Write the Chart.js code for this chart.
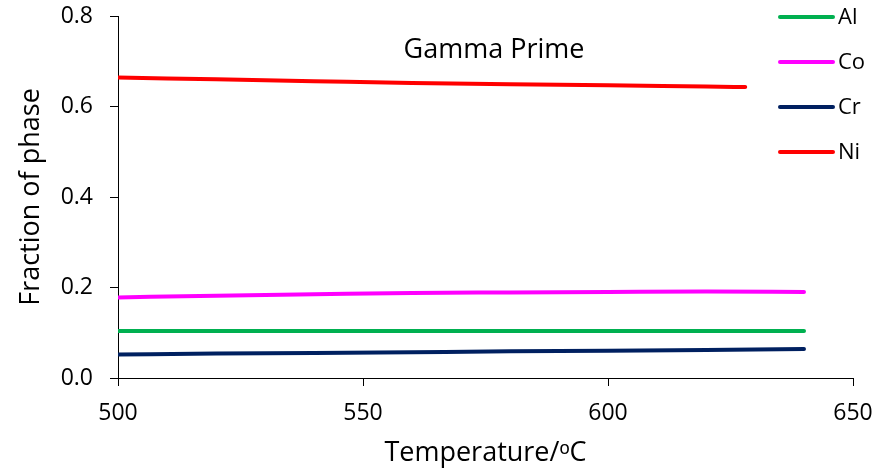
<!DOCTYPE html>
<html>
<head>
<meta charset="utf-8">
<script src="https://cdn.jsdelivr.net/npm/chart.js@4/dist/chart.umd.min.js"></script>
<style>
  html, body { margin: 0; padding: 0; background: #fff; }
  #wrap { width: 888px; height: 474px; position: relative; }
</style>
</head>
<body>
<div id="wrap"><canvas id="myChart"></canvas></div>
<script>
// temperatures (oC) and phase fractions
const tempsAll = [500, 520, 540, 560, 580, 600, 620, 640];
const tempsNi = [500, 520, 540, 560, 580, 600, 620, 628];
const al = [0.104, 0.104, 0.104, 0.104, 0.104, 0.104, 0.104, 0.104];
const co = [0.178, 0.182, 0.185, 0.188, 0.189, 0.190, 0.191, 0.190];
const cr = [0.052, 0.054, 0.055, 0.057, 0.059, 0.060, 0.062, 0.064];
const ni = [0.664, 0.660, 0.656, 0.652, 0.649, 0.647, 0.644, 0.643];
const xTicks = [500, 550, 600, 650];
const yTicks = [0.0, 0.2, 0.4, 0.6, 0.8];

const FONT = "'Open Sans', sans-serif";

function pts(xs, ys) {
  return xs.map((x, i) => ({ x: x, y: ys[i] }));
}

function makeSet(label, xs, ys, color) {
  return {
    label: label,
    data: pts(xs, ys),
    borderColor: color,
    backgroundColor: color,
    borderWidth: 4,
    borderCapStyle: 'round',
    pointRadius: 0,
    cubicInterpolationMode: 'monotone',
    fill: false
  };
}

// legend + "Gamma Prime" label drawn by hand to sit over the plot like the original
const extras = {
  id: 'extras',
  afterDraw(chart) {
    const c = chart.ctx;
    c.save();
    c.fillStyle = '#000';
    c.font = '27px ' + FONT;
    c.textAlign = 'center';
    c.textBaseline = 'alphabetic';
    c.fillText('Gamma Prime', 494, 58);

    c.font = '22px ' + FONT;
    c.textAlign = 'left';
    c.textBaseline = 'middle';
    chart.data.datasets.forEach((ds, i) => {
      const y = 17 + i * 45;
      c.strokeStyle = ds.borderColor;
      c.lineWidth = 4;
      c.lineCap = 'round';
      c.beginPath();
      c.moveTo(780, y);
      c.lineTo(833, y);
      c.stroke();
      c.fillText(ds.label, 838, y + 1);
    });
    c.restore();
  }
};

const ctx = document.getElementById('myChart');
new Chart(ctx, {
  type: 'line',
  data: {
    datasets: [
      makeSet('Al', tempsAll, al, '#00B050'),
      makeSet('Co', tempsAll, co, '#FF00FF'),
      makeSet('Cr', tempsAll, cr, '#002060'),
      makeSet('Ni', tempsNi, ni, '#FF0000')
    ]
  },
  options: {
    responsive: true,
    maintainAspectRatio: false,
    animation: false,
    layout: { padding: { top: 16, right: 35, left: 0, bottom: 0 } },
    plugins: {
      legend: { display: false },
      tooltip: { enabled: false }
    },
    scales: {
      x: {
        type: 'linear',
        min: 500,
        max: 650,
        afterBuildTicks: s => { s.ticks = xTicks.map(v => ({ value: v })); },
        afterFit: s => { s.height = 96; s.paddingLeft = 0; s.paddingRight = 0; },
        ticks: {
          color: '#000',
          font: { family: FONT, size: 23 },
          padding: 14,
          maxRotation: 0
        },
        grid: { drawOnChartArea: false, drawTicks: true, tickLength: 8, color: '#000' },
        border: { color: '#000', width: 1 },
        title: {
          display: true,
          text: 'Temperature/ᵒC',
          color: '#000',
          font: { family: FONT, size: 27 },
          padding: { top: 0, bottom: 4 }
        }
      },
      y: {
        min: 0,
        max: 0.8,
        afterBuildTicks: s => { s.ticks = yTicks.map(v => ({ value: v })); },
        afterFit: s => { s.width = 118; s.paddingTop = 0; s.paddingBottom = 0; },
        ticks: {
          color: '#000',
          font: { family: FONT, size: 23 },
          padding: 17,
          callback: v => v.toFixed(1)
        },
        grid: { drawOnChartArea: false, drawTicks: true, tickLength: 8, color: '#000' },
        border: { color: '#000', width: 1 },
        title: {
          display: true,
          text: 'Fraction of phase',
          color: '#000',
          font: { family: FONT, size: 27 },
          padding: { top: 15, bottom: 0 }
        }
      }
    }
  },
  plugins: [extras]
});
</script>
</body>
</html>
